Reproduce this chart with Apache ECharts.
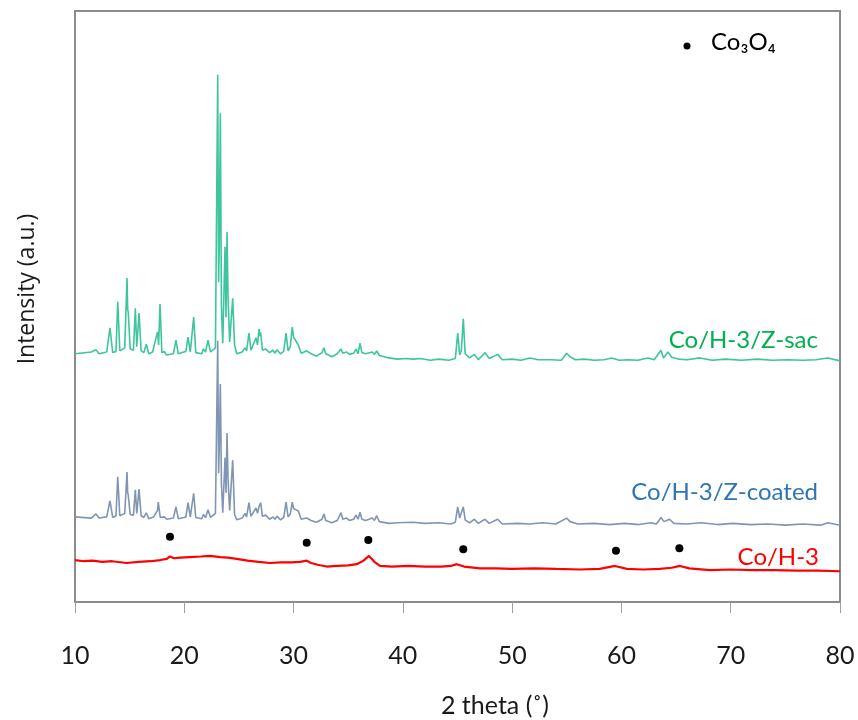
<!DOCTYPE html>
<html>
<head>
<meta charset="utf-8">
<script src="https://cdn.jsdelivr.net/npm/echarts@6/dist/echarts.min.js"></script>
<style>
  html, body { margin: 0; padding: 0; background: #fff; }
  #chart { width: 858px; height: 720px; }
</style>
</head>
<body>
<div id="chart"></div>
<script>
// x ticks (2 theta, degrees)
const thetaTicks = [10, 20, 30, 40, 50, 60, 70, 80]

// patterns as [2theta, intensity (a.u., already stacked)]
const sacPattern = [
  [10.0, 42.0], [11.5, 42.3], [11.92, 42.7], [12.2, 42.0], [12.9, 42.3], [13.2, 46.4], [13.45, 42.2], [13.75, 42.4],
  [13.91, 50.8], [14.1, 42.5], [14.55, 43.0], [14.76, 54.8], [14.82, 49.5], [14.87, 49.1], [15.05, 42.8], [15.35, 42.6],
  [15.52, 49.7], [15.65, 43.2], [15.86, 48.9], [16.05, 42.5], [16.3, 42.2], [16.52, 43.6], [16.75, 42.0], [17.1, 42.3],
  [17.23, 42.6], [17.55, 45.7], [17.65, 43.5], [17.78, 50.4], [17.95, 42.2], [18.17, 42.4], [18.35, 41.8], [19.0, 42.0],
  [19.24, 44.3], [19.45, 42.0], [19.95, 42.3], [20.15, 42.4], [20.34, 44.8], [20.55, 42.3], [20.86, 48.2], [21.05, 42.2],
  [21.6, 42.0], [21.74, 42.8], [21.95, 42.3], [22.17, 44.3], [22.4, 42.3], [22.85, 43.0], [23.06, 89.2], [23.14, 54.1],
  [23.2, 60.0], [23.3, 82.7], [23.4, 50.0], [23.52, 43.8], [23.73, 60.1], [23.82, 48.2], [23.91, 62.6], [24.0, 52.0],
  [24.15, 44.0], [24.43, 51.4], [24.6, 43.5], [24.8, 42.0], [25.3, 42.3], [25.56, 43.0], [25.7, 42.5], [25.92, 45.5],
  [26.1, 42.6], [26.26, 42.3], [26.56, 44.7], [26.7, 43.5], [26.84, 46.2], [26.93, 45.0], [26.99, 45.6], [27.15, 42.6],
  [27.45, 42.8], [27.8, 42.2], [28.12, 42.6], [28.3, 42.1], [28.48, 42.7], [28.8, 42.0], [29.1, 42.4], [29.31, 45.5],
  [29.5, 42.5], [29.7, 43.2], [29.88, 46.5], [30.0, 44.8], [30.1, 45.0], [30.43, 43.5], [30.7, 42.1], [31.2, 42.5],
  [31.6, 42.0], [32.1, 41.6], [32.6, 42.2], [32.78, 43.0], [32.95, 42.0], [33.49, 41.5], [34.0, 42.0], [34.34, 42.8],
  [34.5, 42.1], [34.86, 42.3], [35.1, 41.9], [35.5, 42.1], [35.71, 42.8], [35.9, 42.0], [36.08, 43.8], [36.25, 42.2],
  [36.6, 42.0], [37.2, 42.3], [37.4, 41.9], [37.61, 42.5], [37.85, 41.7], [38.73, 41.3], [39.5, 41.1], [40.3, 41.2],
  [40.93, 41.1], [41.6, 41.2], [42.5, 40.9], [43.3, 41.1], [44.2, 40.9], [44.8, 41.2], [45.02, 45.5], [45.2, 41.8],
  [45.35, 42.5], [45.53, 47.9], [45.7, 42.0], [46.1, 41.3], [46.54, 41.9], [46.9, 41.0], [47.52, 42.2], [47.9, 41.2],
  [48.68, 41.9], [49.1, 41.0], [50.0, 41.1], [50.8, 40.9], [51.63, 41.3], [52.4, 41.0], [53.5, 41.0], [54.5, 40.9],
  [54.99, 42.1], [55.3, 41.5], [55.8, 41.0], [56.6, 41.1], [57.5, 40.9], [58.4, 41.0], [59.11, 41.3], [59.8, 40.9],
  [60.6, 41.0], [61.5, 40.9], [62.43, 41.3], [63.0, 41.0], [63.62, 42.6], [63.85, 41.3], [64.26, 42.3], [64.6, 41.4],
  [65.2, 41.1], [66.0, 41.0], [67.19, 41.3], [68.3, 40.9], [69.5, 41.1], [71.0, 40.9], [72.4, 41.1], [73.8, 40.9],
  [75.2, 41.0], [76.6, 40.9], [77.8, 41.0], [78.9, 41.3], [80.0, 40.8]
]

const coatedPattern = [
  [10.0, 14.4], [11.5, 14.2], [11.92, 14.9], [12.2, 14.2], [12.9, 14.4], [13.2, 17.1], [13.45, 14.3], [13.75, 14.6],
  [13.91, 21.2], [14.1, 14.6], [14.55, 15.0], [14.76, 22.0], [14.82, 18.5], [14.87, 18.1], [15.05, 14.8], [15.35, 14.7],
  [15.52, 19.0], [15.65, 15.0], [15.86, 19.1], [16.05, 14.6], [16.3, 14.3], [16.52, 15.1], [16.75, 14.1], [17.2, 14.4],
  [17.55, 15.5], [17.62, 16.9], [17.8, 14.3], [18.17, 14.4], [18.4, 14.0], [19.0, 14.2], [19.24, 16.1], [19.45, 14.1],
  [19.95, 14.3], [20.15, 14.4], [20.34, 16.8], [20.55, 14.4], [20.86, 18.4], [21.05, 14.3], [21.6, 14.1], [21.74, 14.8],
  [21.95, 14.3], [22.17, 15.6], [22.4, 14.3], [22.85, 15.0], [23.06, 44.2], [23.14, 21.8], [23.2, 26.0], [23.3, 36.9],
  [23.4, 20.0], [23.52, 15.1], [23.73, 24.4], [23.82, 18.5], [23.91, 28.6], [24.0, 21.0], [24.15, 15.5], [24.43, 24.0],
  [24.6, 14.8], [24.8, 13.9], [25.3, 14.2], [25.56, 15.0], [25.7, 14.4], [25.92, 16.8], [26.1, 14.5], [26.26, 14.3],
  [26.56, 15.9], [26.7, 15.0], [26.84, 16.2], [26.99, 16.8], [27.15, 14.5], [27.45, 14.7], [27.8, 14.0], [28.12, 14.4],
  [28.3, 14.0], [28.48, 14.5], [28.8, 13.9], [29.1, 14.3], [29.31, 16.9], [29.5, 14.4], [29.7, 14.9], [29.88, 16.9],
  [30.0, 15.8], [30.1, 16.0], [30.43, 15.4], [30.7, 14.0], [31.2, 14.2], [31.6, 13.8], [32.1, 13.5], [32.6, 14.0],
  [32.78, 14.9], [32.95, 13.8], [33.49, 13.4], [34.0, 13.8], [34.34, 15.1], [34.5, 14.0], [34.86, 14.2], [35.1, 13.8],
  [35.5, 14.0], [35.71, 14.7], [35.9, 14.0], [36.08, 15.2], [36.25, 14.0], [36.6, 13.8], [37.2, 14.2], [37.4, 13.8],
  [37.61, 14.6], [37.85, 13.6], [38.73, 13.3], [39.5, 13.4], [40.93, 13.5], [42.0, 13.3], [43.3, 13.4], [44.4, 13.2],
  [44.8, 13.5], [45.02, 16.1], [45.2, 14.2], [45.35, 14.4], [45.53, 16.1], [45.7, 13.9], [46.1, 13.4], [46.54, 14.0],
  [46.9, 13.3], [47.52, 14.0], [47.9, 13.3], [48.68, 14.0], [49.1, 13.2], [50.5, 13.3], [51.6, 13.2], [52.8, 13.4],
  [54.0, 13.2], [54.99, 14.2], [55.3, 13.6], [56.0, 13.2], [57.5, 13.3], [58.9, 13.1], [60.3, 13.3], [61.6, 13.1],
  [62.7, 13.4], [63.2, 13.2], [63.62, 14.3], [63.9, 13.6], [64.4, 14.0], [64.8, 13.3], [66.0, 13.2], [67.3, 13.4],
  [68.8, 13.1], [70.2, 13.3], [71.8, 13.1], [73.4, 13.2], [75.0, 13.0], [76.6, 13.2], [78.2, 13.0], [78.9, 13.4],
  [80.0, 13.0]
]

const barePattern = [
  [10.0, 7.1], [10.8, 6.9], [11.6, 7.0], [12.5, 6.8], [13.4, 6.9], [14.73, 6.6], [15.8, 6.8], [16.9, 6.9],
  [17.8, 7.1], [18.4, 7.3], [18.69, 7.7], [19.06, 7.4], [19.6, 7.5], [20.5, 7.6], [21.5, 7.7], [22.35, 7.8],
  [23.3, 7.6], [24.0, 7.5], [24.8, 7.3], [25.8, 7.0], [26.8, 6.8], [27.84, 6.6], [28.8, 6.7], [29.8, 6.7],
  [30.6, 6.8], [31.2, 7.0], [31.6, 6.6], [32.2, 6.3], [33.03, 6.0], [34.0, 6.1], [35.0, 6.2], [35.78, 6.4],
  [36.4, 7.0], [36.9, 7.8], [37.4, 6.8], [37.91, 6.1], [39.0, 6.0], [40.5, 6.1], [42.0, 6.0], [43.5, 6.0],
  [44.4, 6.1], [44.93, 6.4], [45.6, 6.0], [47.06, 5.7], [48.5, 5.7], [50.0, 5.6], [52.0, 5.7], [54.0, 5.6],
  [56.21, 5.5], [58.0, 5.6], [59.41, 6.1], [60.5, 5.6], [62.0, 5.5], [63.5, 5.6], [64.6, 5.8], [65.36, 6.1],
  [66.2, 5.7], [68.1, 5.4], [70.0, 5.5], [72.0, 5.4], [74.0, 5.4], [76.0, 5.3], [78.0, 5.3], [80.0, 5.2]
]

// Co3O4 reflection markers
const co3o4Marks = [[18.69, 11.05], [31.2, 10.03], [36.84, 10.49], [45.53, 8.92], [59.5, 8.68], [65.3, 9.09]]

const chart = echarts.init(document.getElementById('chart'))

chart.setOption({
  backgroundColor: '#fff',
  animation: false,
  grid: {
    left: 75, right: 18, top: 11, bottom: 118,
    show: true, borderColor: '#8c8c8c', borderWidth: 2
  },
  xAxis: {
    type: 'value',
    min: thetaTicks[0],
    max: thetaTicks[thetaTicks.length - 1],
    interval: 10,
    axisLine: { show: true, lineStyle: { color: '#8c8c8c', width: 2 } },
    axisTick: { show: true, inside: false, length: 11, lineStyle: { color: '#a0a0a0', width: 1 } },
    axisLabel: { margin: 41, fontSize: 25, color: '#1a1a1a', fontFamily: 'Lato' },
    splitLine: { show: false }
  },
  yAxis: {
    type: 'value',
    min: 0,
    max: 100,
    axisLine: { show: true, lineStyle: { color: '#8c8c8c', width: 2 } },
    axisTick: { show: false },
    axisLabel: { show: false },
    splitLine: { show: false }
  },
  series: [
    {
      name: 'Co/H-3/Z-sac', type: 'line', data: sacPattern, showSymbol: false,
      lineStyle: { color: '#3cc59e', width: 1.6 }, z: 3
    },
    {
      name: 'Co/H-3/Z-coated', type: 'line', data: coatedPattern, showSymbol: false,
      lineStyle: { color: '#8095b3', width: 1.6 }, z: 2
    },
    {
      name: 'Co/H-3', type: 'line', data: barePattern, showSymbol: false,
      lineStyle: { color: '#ff0000', width: 2.2 }, z: 2
    },
    {
      name: 'Co3O4', type: 'scatter', data: co3o4Marks,
      symbol: 'circle', symbolSize: 8, itemStyle: { color: '#000', opacity: 1 }
    }
  ],
  graphic: [
    // series labels
    { type: 'text', x: 818, y: 340, style: { text: 'Co/H-3/Z-sac', fill: '#00b050', fontSize: 24, fontFamily: 'Lato', textAlign: 'right', textVerticalAlign: 'middle' } },
    { type: 'text', x: 818, y: 492, style: { text: 'Co/H-3/Z-coated', fill: '#2e75b6', fontSize: 24, fontFamily: 'Lato', textAlign: 'right', textVerticalAlign: 'middle' } },
    { type: 'text', x: 819, y: 557, style: { text: 'Co/H-3', fill: '#ff0000', fontSize: 24, fontFamily: 'Lato', textAlign: 'right', textVerticalAlign: 'middle' } },
    // marker key
    { type: 'circle', shape: { cx: 687, cy: 46, r: 3.5 }, style: { fill: '#000' } },
    { type: 'text', x: 711, y: 42, style: { text: 'Co₃O₄', fill: '#000', fontSize: 24, fontFamily: 'Lato', textAlign: 'left', textVerticalAlign: 'middle' } },
    // axis titles
    { type: 'text', x: 495, y: 706, style: { text: '2 theta (˚)', fill: '#1a1a1a', fontSize: 25, fontFamily: 'Lato', textAlign: 'center', textVerticalAlign: 'middle' } },
    { type: 'text', x: 27, y: 289, rotation: Math.PI / 2, style: { text: 'Intensity (a.u.)', fill: '#1a1a1a', fontSize: 23, fontFamily: 'Open Sans', textAlign: 'center', textVerticalAlign: 'middle' } }
  ]
})
</script>
</body>
</html>
